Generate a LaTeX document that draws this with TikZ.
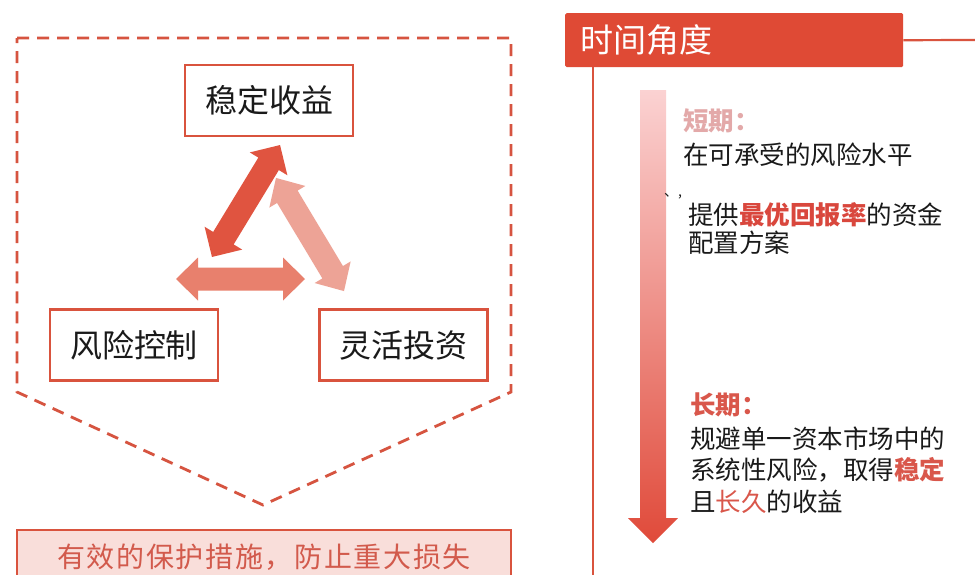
\documentclass[tikz,border=0pt]{standalone}
\usepackage{fontspec}
\setmainfont{Noto Sans CJK SC}
\usetikzlibrary{calc}
\definecolor{dashc}{HTML}{D65440}
\definecolor{boxc}{HTML}{D9533E}
\definecolor{hdrc}{HTML}{DF4A35}
\definecolor{darkarr}{HTML}{E05440}
\definecolor{pinkarr}{HTML}{EDA396}
\definecolor{midarr}{HTML}{E8806D}
\definecolor{botfill}{HTML}{F9DEDA}
\definecolor{bottext}{HTML}{D25A4C}
\definecolor{gtop}{HTML}{FBD2D2}
\definecolor{gmid}{HTML}{F5B2AC}
\definecolor{gbot}{HTML}{E04A3A}
\definecolor{shortc}{HTML}{E3A9A9}
\definecolor{longc}{HTML}{D9574B}
\definecolor{hlc}{HTML}{D9473D}
\definecolor{txtc}{HTML}{1A1A1A}
\newcommand{\DArrow}[7]{%
  \begin{scope}[shift={(#1,#2)},rotate=#3]
    \fill[#7] (-#4,0) -- (-#4+22,#6) -- (-#4+22,#5) -- (#4-22,#5) -- (#4-22,#6) -- (#4,0)
      -- (#4-22,-#6) -- (#4-22,-#5) -- (-#4+22,-#5) -- (-#4+22,-#6) -- cycle;
  \end{scope}}
\tikzset{
  box/.style={draw=boxc, line width=2.6pt, fill=white, text=txtc, inner sep=0pt,
    minimum width=168pt, minimum height=71pt, font=\fontsize{32pt}{36pt}\selectfont},
  dashline/.style={draw=dashc, line width=2.8pt, dash pattern=on 12pt off 8pt},
  redline/.style={draw=boxc, line width=2.2pt},
  rt/.style={anchor=base west, inner sep=0pt, text=txtc, font=\fontsize{25.5pt}{30pt}\selectfont}
}
\begin{document}
\begin{tikzpicture}[x=1pt,y=-1pt]
\useasboundingbox (0,0) rectangle (975,574);
\fill[white] (0,0) rectangle (975,574);

% left dashed frame
\draw[dashline] (17,38) -- (511,38) -- (511,392) -- (263,505) -- (17,392) -- cycle;

% boxes
\node[box] (stable) at (269,100.5) {稳定收益};
\node[box] (risk) at (134,345) {风险控制};
\node[box] (flex) at (403.5,345) {灵活投资};

% triangle of double arrows
\DArrow{240.5}{279}{0}{64.5}{11.5}{21.5}{midarr}
\DArrow{310}{234.5}{-59}{66}{12}{21}{pinkarr}
\DArrow{246}{201}{58.7}{65.5}{12}{22}{darkarr}

% bottom box
\node[draw=boxc, line width=2.6pt, fill=botfill, text=bottext, inner sep=0pt,
  minimum width=494pt, minimum height=54pt,
  font=\fontsize{28pt}{32pt}\selectfont\addfontfeature{LetterSpace=6}] (protect) at (264,557)
  {有效的保护措施，防止重大损失};

% right panel
\node[fill=hdrc, rounded corners=1.5pt, anchor=north west, minimum width=338pt, minimum height=54pt,
  text width=308pt, inner xsep=15pt, inner ysep=0pt, align=left, text=white,
  font=\fontsize{33pt}{36pt}\selectfont] (hdr) at (565,13) {时间角度};
\coordinate (lineend) at (975,40);
\coordinate (vtop) at (593,67);
\coordinate (vend) at (593,580);
\draw[redline] (hdr.east) -- (lineend);
\draw[redline] (vtop) -- (vend);

% gradient arrow
\shade[top color=gtop, middle color=gmid, bottom color=gbot]
  (640,90) -- (666,90) -- (666,518) -- (678,518) -- (653,543) -- (628,518) -- (640,518) -- cycle;

% short term text
\node[rt, text=shortc, font=\fontsize{25.5pt}{30pt}\selectfont\bfseries] (st) at (683,130) {短期：};
\node[rt] (st1) at (683,164) {在可承受的风险水平};
\node[rt, font=\fontsize{14pt}{16pt}\selectfont] (cm) at (664,196) {、,};
\node[rt] (st2) at (688,224) {提供{\color{hlc}\bfseries 最优回报率}的资金};
\node[rt] (st3) at (688,252) {配置方案};

% long term text
\node[rt, text=longc, font=\fontsize{25.5pt}{30pt}\selectfont\bfseries] (lt) at (690,414) {长期：};
\node[rt] (lt1) at (690,448) {规避单一资本市场中的};
\node[rt] (lt2) at (690,479.5) {系统性风险，取得{\color{longc}\bfseries 稳定}};
\node[rt] (lt3) at (690,511) {且{\color{longc}长久}的收益};
\end{tikzpicture}
\end{document}
